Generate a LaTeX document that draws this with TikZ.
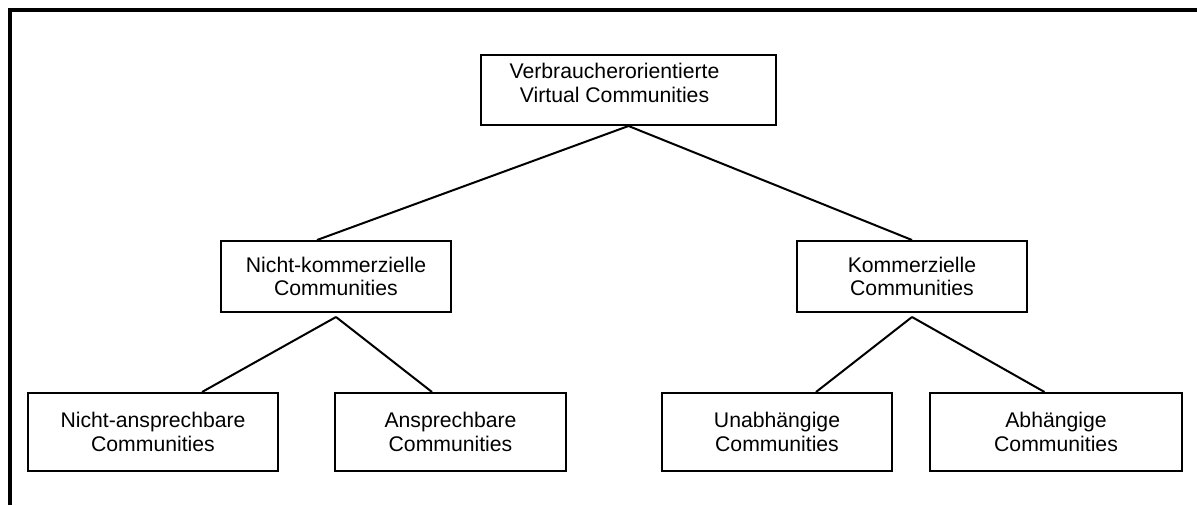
\documentclass[tikz,border=0pt]{standalone}
\usepackage{fontspec}
\setmainfont{Liberation Sans}
\tikzstyle{community} = [rectangle, minimum height=35pt, align=center, text centered, draw=black, line width=1pt, inner sep=0pt, font=\fontsize{10.6}{11.8}\selectfont]
\tikzstyle{leaf} = [community, minimum height=39pt]
\tikzstyle{link} = [line width=1pt]

\begin{document}
\begin{tikzpicture}[x=0.5pt, y=-0.5pt]
		\useasboundingbox (0,0) rectangle (1197,505);
		\draw [line width=2pt] (1197,10) -- (10,10) -- (10,505);
		\node (root) [community, minimum width=147.5pt, text depth=7pt] at (628.5,90) {Verbraucherorientierte\hspace*{14pt}\\Virtual Communities\hspace*{14pt}};
		\node (nk) [community, minimum width=115pt, minimum height=35.5pt] at (336,276.5) {Nicht-kommerzielle\\Communities};
		\node (k) [community, minimum width=115pt, minimum height=35.5pt] at (912,276.5) {Kommerzielle\\Communities};
		\node (na) [leaf, minimum width=125pt] at (153,432) {Nicht-ansprechbare\\Communities};
		\node (an) [leaf, minimum width=115.5pt] at (450.5,432) {Ansprechbare\\Communities};
		\node (un) [leaf, minimum width=115pt] at (777,432) {Unabhängige\\Communities};
		\node (ab) [leaf, minimum width=126pt] at (1056,432) {Abhängige\\Communities};
		\draw [link] (root.south) -- ([xshift=-9.5pt]nk.north);
		\draw [link] (root.south) -- (k.north);
		\draw [link] ([yshift=-2pt]nk.south) -- ([xshift=24.5pt]na.north);
		\draw [link] ([yshift=-2pt]nk.south) -- ([xshift=-9.25pt]an.north);
		\draw [link] ([yshift=-2pt]k.south) -- ([xshift=19.5pt]un.north);
		\draw [link] ([yshift=-2pt]k.south) -- ([xshift=-5.75pt]ab.north);
\end{tikzpicture}
\end{document}
